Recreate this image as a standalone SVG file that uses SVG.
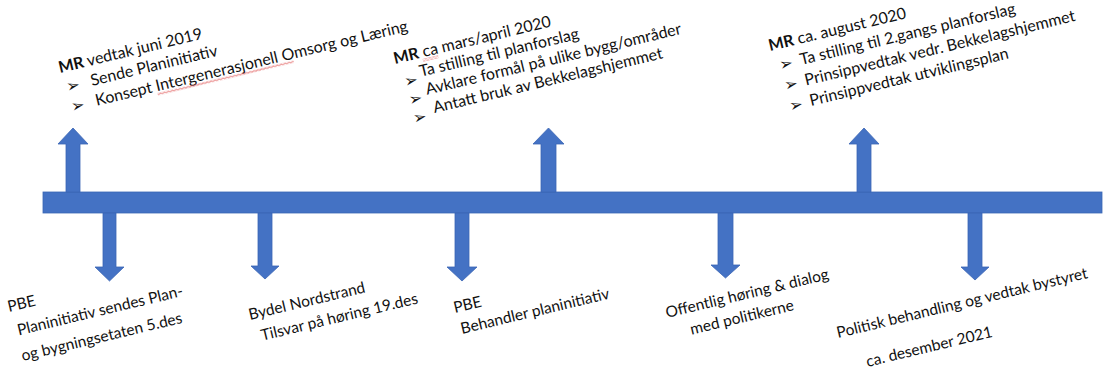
<svg xmlns="http://www.w3.org/2000/svg" width="1117" height="378" viewBox="0 0 1117 378">
<defs>
<style>
.t{font-family:Lato,"Liberation Sans",sans-serif;font-size:16px;fill:#111111}
.s{font-size:15.5px}
.b{font-weight:bold}
.bul{font-family:"DejaVu Sans",sans-serif;font-size:16px;fill:#111111}
.arr{fill:#4472C4;stroke:#3B66B5;stroke-width:0.8}
</style>
<pattern id="wave" patternUnits="userSpaceOnUse" width="4" height="3">
<path d="M0,1.5 Q1,0 2,1.5 T4,1.5" fill="none" stroke="#E05555" stroke-width="0.9"/>
</pattern>
</defs>
<rect width="1117" height="378" fill="#ffffff"/>
<g id="timeline">
<rect class="arr" x="43" y="192" width="1059" height="21"/>
</g>
<g id="connectors">
<path class="arr" d="M66,192 V144 H58 L73,128 L88,144 H80 V192 Z"/>
<path class="arr" d="M541,192 V144 H533 L548.5,128 L564,144 H556 V192 Z"/>
<path class="arr" d="M857,192 V144 H849 L864,128 L879,144 H871 V192 Z"/>
<path class="arr" d="M103,213 V267 H95 L109.5,281 L124,267 H116 V213 Z"/>
<path class="arr" d="M258,213 V266 H251 L265,279 L279,266 H272 V213 Z"/>
<path class="arr" d="M455,213 V267 H447 L462,281 L477,267 H469 V213 Z"/>
<path class="arr" d="M718,213 V265 H711 L725.5,278 L740,265 H733 V213 Z"/>
<path class="arr" d="M968,213 V267 H961 L975,280 L989,267 H982 V213 Z"/>
</g>
<g id="mr2019" transform="translate(60,73) rotate(-13.5)">
<text class="t" x="0" y="0"><tspan class="b">MR</tspan> vedtak juni 2019</text>
<text class="bul" x="3" y="20.5">➢</text>
<text class="t" x="28" y="20">Sende Planinitiativ</text>
<text class="bul" x="3" y="41">➢</text>
<text class="t" x="28" y="40.5">Konsept Intergenerasjonell Omsorg og Læring</text>
<rect x="90" y="42" width="140" height="3" fill="url(#wave)"/>
</g>
<g id="mr2020a" transform="translate(395,64) rotate(-13.5)">
<text class="t" x="0" y="0"><tspan class="b">MR</tspan> ca mars/april 2020</text>
<rect x="28" y="1.5" width="16" height="3" fill="url(#wave)"/>
<text class="bul" x="5" y="25">➢</text>
<text class="bul" x="5" y="44">➢</text>
<text class="bul" x="5" y="63">➢</text>
<text class="t" x="22" y="18.5">Ta stilling til planforslag</text>
<text class="t" x="24" y="37.5">Avklare formål på ulike bygg/områder</text>
<text class="t" x="27" y="57">Antatt bruk av Bekkelagshjemmet</text>
</g>
<g id="mr2020b" transform="translate(770,51) rotate(-13.5)">
<text class="t" x="0" y="0"><tspan class="b">MR</tspan> ca. august 2020</text>
<text class="bul" x="6" y="21.5">➢</text>
<text class="bul" x="6" y="42.5">➢</text>
<text class="bul" x="6" y="64">➢</text>
<text class="t" x="27" y="21">Ta stilling til 2.gangs planforslag</text>
<text class="t" x="27" y="42">Prinsippvedtak vedr. Bekkelagshjemmet</text>
<text class="t" x="27" y="63">Prinsippvedtak utviklingsplan</text>
</g>
<g id="pbe1" transform="translate(9,312) rotate(-13.5)">
<text class="t s" x="0" y="0">PBE</text>
<text class="t s" x="4" y="25">Planinitiativ sendes Plan-</text>
<text class="t s" x="2" y="51">og bygningsetaten 5.des</text>
</g>
<g id="bydel" transform="translate(250,320) rotate(-13.5)">
<text class="t s" x="0" y="0">Bydel Nordstrand</text>
<text class="t s" x="7" y="23">Tilsvar på høring 19.des</text>
</g>
<g id="pbe2" transform="translate(455,313) rotate(-13.5)">
<text class="t s" x="0" y="0">PBE</text>
<text class="t s" x="2" y="22">Behandler planinitiativ</text>
</g>
<g id="offentlig" transform="translate(667,318) rotate(-13.5)">
<text class="t s" x="0" y="0">Offentlig høring &amp; dialog</text>
<text class="t s" x="20" y="22">med politikerne</text>
</g>
<g id="politisk" transform="translate(838,338) rotate(-13.5)">
<text class="t s" x="0" y="0">Politisk behandling og vedtak bystyret</text>
<text class="t s" x="22" y="35">ca. desember 2021</text>
</g>
</svg>
